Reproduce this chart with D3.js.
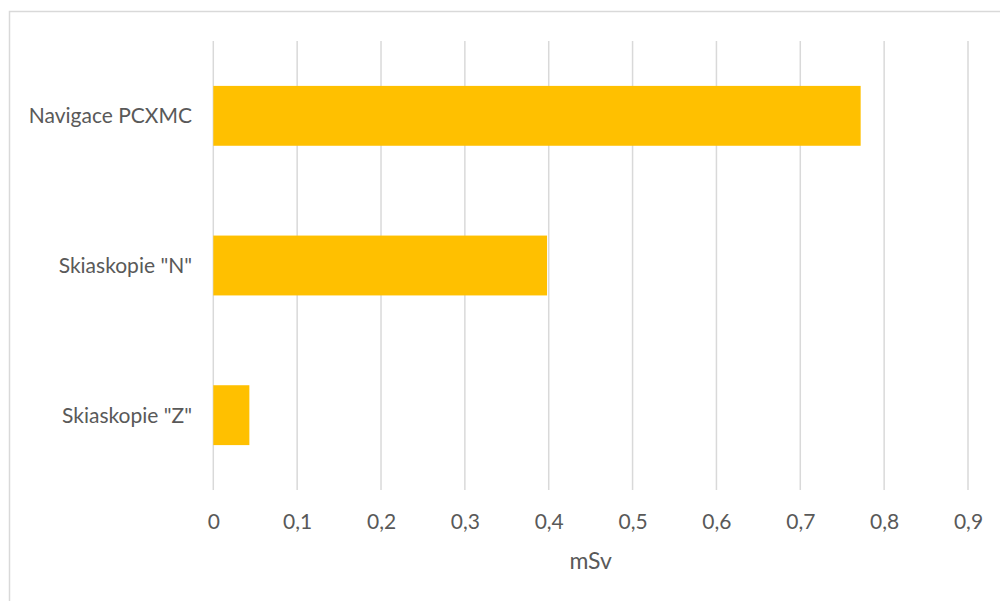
<!DOCTYPE html>
<html>
<head>
<meta charset="utf-8">
<script src="https://cdn.jsdelivr.net/npm/d3@7"></script>
<style>
  html, body { margin: 0; padding: 0; background: #fff; }
  svg { display: block; }
  text { font-family: Lato, "Open Sans", sans-serif; fill: #595959; }
</style>
</head>
<body>
<svg id="chart" width="1000" height="601"></svg>
<script>
const categories = ['Navigace PCXMC', 'Skiaskopie "N"', 'Skiaskopie "Z"'];
const values = [0.772, 0.398, 0.043];
const tickValues = [0, 0.1, 0.2, 0.3, 0.4, 0.5, 0.6, 0.7, 0.8, 0.9];
const axisTitle = "mSv";

const svg = d3.select("#chart");
const plot = { left: 213.3, right: 968, top: 41, bottom: 490 };

// chart frame
svg.append("rect")
  .attr("x", 9.5).attr("y", 11.5)
  .attr("width", 1000).attr("height", 700)
  .attr("fill", "none").attr("stroke", "#d9d9d9").attr("stroke-width", 1.5);

const x = d3.scaleLinear().domain([0, 0.9]).range([plot.left, plot.right]);
const y = d3.scaleBand().domain(categories).range([plot.top, plot.bottom])
  .paddingInner(0.6).paddingOuter(0.3);

// gridlines
svg.append("g").selectAll("line").data(tickValues).join("line")
  .attr("x1", d => x(d)).attr("x2", d => x(d))
  .attr("y1", plot.top).attr("y2", plot.bottom)
  .attr("stroke", "#d9d9d9").attr("stroke-width", 1.5);

// bars
svg.append("g").selectAll("rect").data(values).join("rect")
  .attr("x", x(0))
  .attr("y", (d, i) => y(categories[i]))
  .attr("width", d => x(d) - x(0))
  .attr("height", y.bandwidth())
  .attr("fill", "#FFC000");

// x axis labels
const xAxis = d3.axisBottom(x).tickValues(tickValues)
  .tickFormat(d => d3.format(".1~f")(d).replace(".", ","))
  .tickSize(0).tickPadding(0);
const gx = svg.append("g").attr("transform", `translate(0,${plot.bottom})`).call(xAxis);
gx.select(".domain").remove();
gx.selectAll("text").attr("dy", null).attr("y", 39)
  .style("font-size", "21px").style("fill", "#595959")
  .style("font-family", "Lato, 'Open Sans', sans-serif");

// y axis labels
const yAxis = d3.axisLeft(y).tickSize(0).tickPadding(0);
const gy = svg.append("g").attr("transform", `translate(192,0)`).call(yAxis);
gy.select(".domain").remove();
gy.selectAll("text").attr("dy", "0.35em").attr("x", 0)
  .style("font-size", "21px").style("fill", "#595959")
  .style("font-family", "Lato, 'Open Sans', sans-serif");

// axis title
svg.append("text")
  .attr("x", (plot.left + plot.right) / 2)
  .attr("y", 569)
  .attr("text-anchor", "middle")
  .style("font-size", "23px")
  .text(axisTitle);
</script>
</body>
</html>
